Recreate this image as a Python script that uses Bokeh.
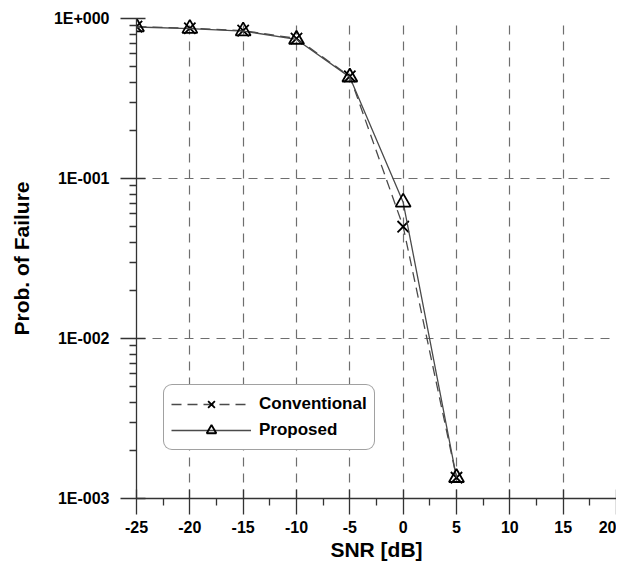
from bokeh.plotting import figure
from bokeh.models import FixedTicker, Legend, LegendItem
from bokeh.embed import file_html
from bokeh.resources import INLINE

snr = [-25, -20, -15, -10, -5, 0, 5]
conventional = [0.89, 0.87, 0.84, 0.75, 0.435, 0.050, 0.00135]
proposed = [0.885, 0.865, 0.835, 0.74, 0.43, 0.071, 0.00135]

x_ticks = [-25, -20, -15, -10, -5, 0, 5, 10, 15, 20]
x_labels = ["-25", "-20", "-15", "-10", "-5", "0", "5", "10", "15", "20"]
x_minor = [t + 2.5 for t in x_ticks[:-1]]

y_ticks = [1e-3, 1e-2, 1e-1, 1.0]
y_labels = ["1E-003", "1E-002", "1E-001", "1E+000"]
y_minor = [m * t for t in y_ticks[:-1] for m in range(2, 10)]

FONT = "Liberation Sans"
LINE = "#4a4a4a"

p = figure(width=616, height=563, y_axis_type="log", x_range=(-25, 20), y_range=(1e-3, 1),
           output_backend="svg", toolbar_location=None,
           min_border_left=136, min_border_right=0, min_border_top=18, min_border_bottom=64)
p.outline_line_color = None
p.background_fill_color = "white"

l1 = p.line(snr, conventional, line_color=LINE, line_width=1.3, line_dash="10 6")
s1 = p.scatter(snr, conventional, marker="x", size=16, line_color="black", line_width=1.8)
l2 = p.line(snr, proposed, line_color=LINE, line_width=1.3)
s2 = p.scatter(snr, proposed, marker="triangle", size=15, line_color="black", line_width=1.8,
               fill_color=None)

legend = Legend(items=[LegendItem(label="Conventional", renderers=[l1, s1]),
                       LegendItem(label="Proposed", renderers=[l2, s2])],
                location=(27, 48), glyph_width=80, glyph_height=24, label_standoff=8,
                label_text_font=FONT, label_text_font_style="bold", label_text_font_size="17px",
                label_text_color="black",
                border_line_color="#444444", border_line_width=1.3, padding=7, spacing=2,
                background_fill_alpha=1.0)
if "border_radius" in Legend.properties():
    legend.border_radius = 9
p.add_layout(legend, "center")

p.xaxis.ticker = FixedTicker(ticks=x_ticks, minor_ticks=x_minor)
p.xaxis.major_label_overrides = dict(zip(x_ticks, x_labels))
p.yaxis.ticker = FixedTicker(ticks=y_ticks, minor_ticks=y_minor)
p.yaxis.major_label_overrides = dict(zip(y_ticks, y_labels))

for ax in (p.xaxis, p.yaxis):
    ax.axis_line_color = "#333333"
    ax.axis_line_width = 1.3
    ax.major_tick_line_color = "#333333"
    ax.minor_tick_line_color = "#333333"
    ax.major_tick_line_width = 1.3
    ax.minor_tick_line_width = 1.3
    ax.major_tick_in = 9
    ax.major_tick_out = 16
    ax.minor_tick_in = 0
    ax.minor_tick_out = 7
    ax.major_label_text_font = FONT
    ax.major_label_text_font_style = "bold"
    ax.major_label_text_font_size = "16px"
    ax.major_label_text_color = "black"
    ax.axis_label_text_font = FONT
    ax.axis_label_text_font_style = "bold"
    ax.axis_label_text_font_size = "21px"
    ax.axis_label_text_color = "black"

p.xaxis.axis_label = "SNR [dB]"
p.yaxis.axis_label = "Prob. of Failure"
p.xaxis.major_label_standoff = 6
p.yaxis.major_label_standoff = 11
p.xaxis.axis_label_standoff = 2
p.yaxis.axis_label_standoff = 18

for g in (p.xgrid, p.ygrid):
    g.grid_line_color = "#6e6e6e"
    g.grid_line_width = 1.2
    g.grid_line_dash = "9 7"

open("out.html", "w").write(file_html(p, INLINE))
